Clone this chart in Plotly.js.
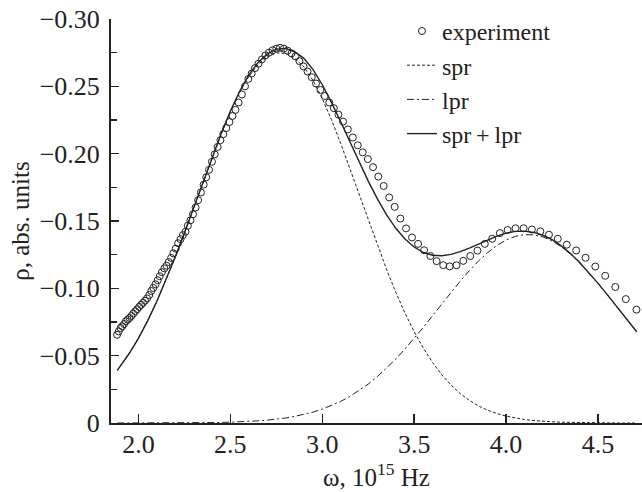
<!DOCTYPE html>
<html>
<head>
<meta charset="utf-8">
<script src="https://cdn.plot.ly/plotly-3.0.1.min.js"></script>
<style>html,body{margin:0;padding:0;background:#fff;}#chart{width:642px;height:492px;}</style>
</head>
<body>
<div id="chart"></div>
<script>
// Experimental points (omega in 10^15 Hz, rho in abs. units)
const omegaExp = [1.884,1.893,1.903,1.912,1.922,1.932,1.942,1.952,1.962,1.972,
1.983,1.993,2.004,2.015,2.025,2.036,2.047,2.059,2.070,2.081,
2.093,2.105,2.116,2.128,2.141,2.153,2.165,2.178,2.190,2.203,
2.216,2.229,2.242,2.256,2.269,2.283,2.297,2.311,2.325,2.340,
2.355,2.369,2.384,2.400,2.415,2.431,2.446,2.462,2.478,2.495,
2.512,2.528,2.545,2.563,2.580,2.598,2.616,2.634,2.653,2.672,
2.691,2.710,2.730,2.750,2.770,2.791,2.811,2.833,2.854,2.876,
2.898,2.920,2.943,2.966,2.990,3.014,3.038,3.063,3.088,3.113,
3.139,3.166,3.193,3.220,3.248,3.276,3.305,3.334,3.364,3.394,
3.425,3.456,3.488,3.521,3.554,3.588,3.622,3.658,3.693,3.730,
3.767,3.805,3.844,3.884,3.924,3.966,4.008,4.051,4.095,4.140,
4.186,4.233,4.281,4.330,4.381,4.432,4.485,4.539,4.594,4.651,
4.709];
const rhoExp = [-0.0655,-0.0680,-0.0705,-0.0718,-0.0735,-0.0755,-0.0768,-0.0780,-0.0795,-0.0812,
-0.0830,-0.0845,-0.0862,-0.0878,-0.0893,-0.0908,-0.0925,-0.0950,-0.0980,-0.1003,
-0.1030,-0.1060,-0.1090,-0.1120,-0.1148,-0.1168,-0.1195,-0.1226,-0.1260,-0.1295,
-0.1335,-0.1365,-0.1395,-0.1420,-0.1465,-0.1505,-0.1550,-0.1600,-0.1655,-0.1712,
-0.1770,-0.1825,-0.1880,-0.1940,-0.1995,-0.2050,-0.2100,-0.2145,-0.2190,-0.2235,
-0.2280,-0.2325,-0.2380,-0.2440,-0.2500,-0.2555,-0.2595,-0.2635,-0.2668,-0.2700,
-0.2730,-0.2750,-0.2768,-0.2780,-0.2786,-0.2780,-0.2765,-0.2745,-0.2722,-0.2687,
-0.2648,-0.2610,-0.2568,-0.2521,-0.2473,-0.2428,-0.2380,-0.2338,-0.2290,-0.2238,
-0.2180,-0.2120,-0.2062,-0.2010,-0.1960,-0.1900,-0.1830,-0.1760,-0.1675,-0.1605,
-0.1518,-0.1445,-0.1378,-0.1330,-0.1283,-0.1240,-0.1202,-0.1172,-0.1163,-0.1171,
-0.1204,-0.1240,-0.1280,-0.1330,-0.1368,-0.1410,-0.1433,-0.1446,-0.1446,-0.1437,
-0.1423,-0.1398,-0.1368,-0.1324,-0.1281,-0.1227,-0.1162,-0.1093,-0.1010,-0.0920,
-0.0842];

// Model curves
const omegaFit = [1.885,1.90,1.95,2.00,2.05,2.10,2.15,2.20,2.25,2.30,
2.35,2.40,2.45,2.50,2.55,2.60,2.65,2.70,2.75,2.80,
2.85,2.90,2.95,3.00,3.05,3.10,3.15,3.20,3.25,3.30,
3.35,3.40,3.45,3.50,3.55,3.60,3.65,3.70,3.75,3.80,
3.85,3.90,3.95,4.00,4.05,4.10,4.15,4.20,4.25,4.30,
4.35,4.40,4.45,4.50,4.55,4.60,4.65,4.70,4.71];
const rhoSpr = [-0.0391,-0.0418,-0.0516,-0.0629,-0.0758,-0.0902,-0.1060,-0.1230,-0.1409,-0.1595,
-0.1782,-0.1967,-0.2144,-0.2309,-0.2454,-0.2572,-0.2660,-0.2718,-0.2748,-0.2745,
-0.2708,-0.2645,-0.2543,-0.2409,-0.2252,-0.2077,-0.1891,-0.1700,-0.1507,-0.1319,
-0.1139,-0.0971,-0.0816,-0.0678,-0.0555,-0.0449,-0.0358,-0.0282,-0.0219,-0.0168,
-0.0127,-0.0095,-0.0070,-0.0051,-0.0037,-0.0026,-0.0018,-0.0012,-0.0009,-0.0006,
-0.0004,-0.0003,-0.0002,-0.0001,-0.0001,0.0000,0.0000,0.0000,0.0000];
const rhoLpr = [0.0000,0.0000,0.0000,0.0000,0.0000,0.0000,-0.0001,-0.0001,-0.0001,-0.0001,
-0.0002,-0.0003,-0.0004,-0.0006,-0.0008,-0.0011,-0.0016,-0.0021,-0.0028,-0.0037,
-0.0049,-0.0063,-0.0081,-0.0103,-0.0129,-0.0160,-0.0197,-0.0240,-0.0289,-0.0345,
-0.0407,-0.0475,-0.0550,-0.0629,-0.0711,-0.0797,-0.0884,-0.0970,-0.1053,-0.1131,
-0.1203,-0.1266,-0.1318,-0.1359,-0.1386,-0.1399,-0.1397,-0.1382,-0.1352,-0.1309,
-0.1254,-0.1189,-0.1116,-0.1036,-0.0952,-0.0866,-0.0780,-0.0695,-0.0678];
const rhoSum = [-0.0391,-0.0418,-0.0516,-0.0629,-0.0758,-0.0902,-0.1061,-0.1231,-0.1410,-0.1596,
-0.1784,-0.1970,-0.2148,-0.2315,-0.2462,-0.2583,-0.2676,-0.2739,-0.2776,-0.2782,
-0.2757,-0.2708,-0.2624,-0.2512,-0.2381,-0.2237,-0.2088,-0.1940,-0.1796,-0.1664,
-0.1546,-0.1446,-0.1366,-0.1307,-0.1266,-0.1246,-0.1242,-0.1252,-0.1272,-0.1299,
-0.1330,-0.1361,-0.1388,-0.1410,-0.1423,-0.1425,-0.1415,-0.1394,-0.1361,-0.1315,
-0.1258,-0.1192,-0.1118,-0.1037,-0.0953,-0.0866,-0.0780,-0.0695,-0.0678];

const xTickVals = [2.0, 2.5, 3.0, 3.5, 4.0, 4.5];
const xTickText = ["2.0", "2.5", "3.0", "3.5", "4.0", "4.5"];
const yTickVals = [0, -0.05, -0.10, -0.15, -0.20, -0.25, -0.30];
const yTickText = ["0", "\u22120.05", "\u22120.10", "\u22120.15", "\u22120.20", "\u22120.25", "\u22120.30"];

const ink = "#222222";
const fontFam = "Liberation Serif";

const traces = [
  {x: omegaExp, y: rhoExp, name: "experiment", mode: "markers", type: "scatter",
   marker: {symbol: "circle-open", size: 7, color: ink, line: {width: 1, color: ink}}},
  {x: omegaFit, y: rhoSpr, name: "spr", mode: "lines", type: "scatter",
   line: {color: ink, width: 1, dash: "3px,2px"}},
  {x: omegaFit, y: rhoLpr, name: "lpr", mode: "lines", type: "scatter",
   line: {color: ink, width: 1, dash: "7px,3px,2px,3px"}},
  {x: omegaFit, y: rhoSum, name: "spr\u2009+\u2009lpr", mode: "lines", type: "scatter",
   line: {color: ink, width: 1.4}}
];

const layout = {
  width: 642, height: 492,
  margin: {l: 111, r: 0, t: 19, b: 69, pad: 0},
  paper_bgcolor: "#fff", plot_bgcolor: "#fff",
  font: {family: fontFam, size: 26, color: ink},
  showlegend: true,
  legend: {x: 0.548, y: 1.025, xanchor: "left", yanchor: "top",
    bgcolor: "rgba(0,0,0,0)", borderwidth: 0, tracegroupgap: 0,
    font: {family: fontFam, size: 24, color: ink}},
  xaxis: {
    range: [1.851, 4.739], showgrid: false, zeroline: false,
    showline: true, linewidth: 2, linecolor: ink,
    ticks: "inside", ticklen: 9, tickwidth: 1.5, tickcolor: ink,
    tickmode: "array", tickvals: xTickVals, ticktext: xTickText,
    ticklabelstandoff: -3,
    tickfont: {family: fontFam, size: 26, color: ink},
    title: {text: "\u03c9, 10<sup>15</sup> Hz", font: {family: fontFam, size: 25, color: ink}, standoff: 0}
  },
  yaxis: {
    range: [0, -0.30], showgrid: false, zeroline: false,
    showline: true, linewidth: 2, linecolor: ink,
    ticks: "inside", ticklen: 8, tickwidth: 1.5, tickcolor: ink,
    tickmode: "array", tickvals: yTickVals, ticktext: yTickText,
    ticklabelstandoff: 4,
    minor: {ticks: "inside", ticklen: 6, tickwidth: 1.2, tickcolor: ink, dtick: 0.025, tick0: 0, showgrid: false},
    tickfont: {family: fontFam, size: 26, color: ink},
    title: {text: "\u03c1, abs. units", font: {family: fontFam, size: 25, color: ink}, standoff: 3}
  }
};

Plotly.newPlot("chart", traces, layout, {staticPlot: true, displayModeBar: false});
</script>
</body>
</html>
